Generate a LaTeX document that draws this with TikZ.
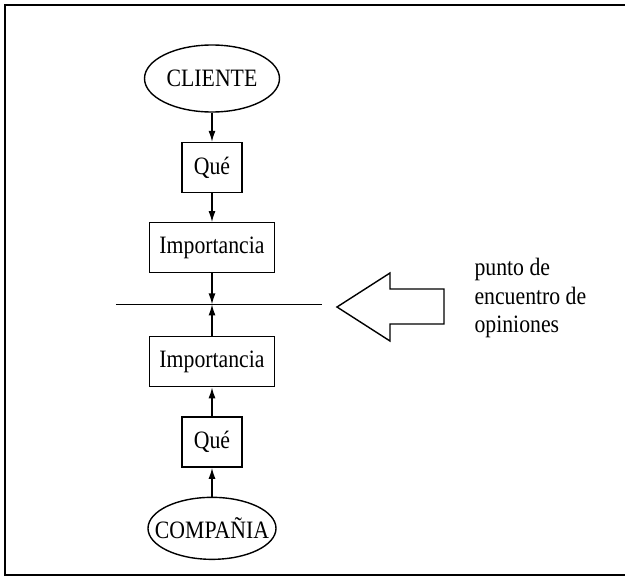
\documentclass[tikz,border=0pt]{standalone}
\usepackage{fontspec}
\setmainfont{Liberation Serif}[FakeStretch=0.87]
\usepackage{tikz}
\usetikzlibrary{shapes.geometric,arrows.meta}
\tikzstyle{block} = [draw, fill=white, rectangle, line width=1.4pt,
    minimum height=50pt, inner sep=2pt]
\tikzstyle{party} = [draw, fill=white, ellipse, line width=1.4pt,
    inner xsep=-16pt, inner ysep=0pt]
\tikzstyle{input} = [coordinate]
\tikzstyle{link} = [->, line width=1.4pt]

\begin{document}
\begin{tikzpicture}[auto, node distance=2cm, >={Latex[length=11pt,width=7pt]},
    font=\fontsize{25}{28.5}\selectfont]
\useasboundingbox (0pt,0pt) rectangle (625pt,-579pt);
% Frame
	\draw [line width=1.4pt] (625pt,-5pt) -- (5pt,-5pt) -- (5pt,-575pt) -- (625pt,-575pt);
% Nodes
	\node [party, minimum width=135pt, minimum height=67pt] (client) at (212pt,-78.5pt) {CLIENTE};
	\node [block, below of=client, node distance = 3.13 cm, minimum width=60pt] (what1) {Qué};
	\node [block, below of=what1, node distance = 2.82 cm, minimum width=125pt] (imp1) {Importancia};
	\node [input, below of=imp1, node distance = 1.99 cm] (meet) {};
	\node [block, below of=imp1, node distance = 4.0 cm, minimum width=125pt] (imp2) {Importancia};
	\node [block, below of=imp2, node distance = 2.83 cm, minimum width=60pt] (what2) {Qué};
	\node [party, below of=what2, node distance = 3.03 cm, minimum width=128pt, minimum height=62pt] (company) {COMPAÑIA};
	\node [input, left of=meet, node distance = 3.38 cm] (lft) {};
	\node [input, right of=meet, node distance = 3.87 cm] (rgt) {};
% Connections
	\draw [link] (client) -- (what1);
	\draw [link] (what1) -- (imp1);
	\draw [link] (imp1) -- (meet);
	\draw [link] (imp2) -- (meet);
	\draw [link] (what2) -- (imp2);
	\draw [link] (company) -- (what2);
	\draw [line width=1.4pt] (lft) -- (rgt);
% Notations
	\coordinate (tip) at (337pt,-307pt);
	\draw [line width=1.4pt, line join=miter] (tip) -- ++(53pt,34pt) -- ++(0pt,-16pt) -- ++(54pt,0pt)
	    -- ++(0pt,-35pt) -- ++(-54pt,0pt) -- ++(0pt,-17pt) -- cycle;
	\node [anchor=west, align=left] (note) at (471pt,-298pt) {punto de\\encuentro de\\opiniones};
\end{tikzpicture}
\end{document}
